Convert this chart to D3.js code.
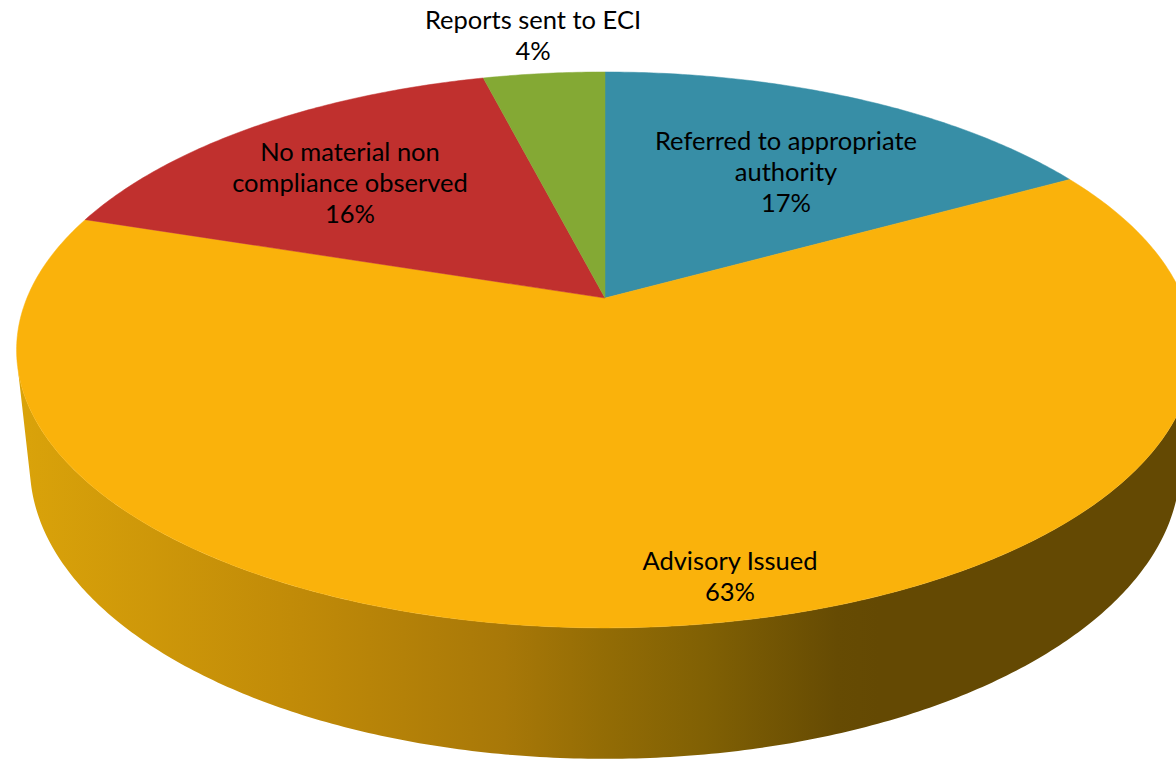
<!DOCTYPE html>
<html>
<head>
<meta charset="utf-8">
<script src="https://cdn.jsdelivr.net/npm/d3@7"></script>
<style>
  body { margin: 0; background: #fff; }
  svg { display: block; }
</style>
</head>
<body>
<div id="chart"></div>
<script>
var categories = ['Referred to appropriate authority', 'Advisory Issued', 'No material non compliance observed', 'Reports sent to ECI']
var values = [17, 63, 16, 4]
var labelLines = [
  ['Referred to appropriate', 'authority', '17%'],
  ['Advisory Issued', '63%'],
  ['No material non', 'compliance observed', '16%'],
  ['Reports sent to ECI', '4%']
]

var colors = ['#378ea6', '#fab20b', '#c0302e', '#84a934']
var labelPos = [[786, 150], [730, 570], [350, 161], [533, 29]]

var width = 1176
var height = 759

// camera for the tilted pie
var cx = 605, cy = 298
var F = 2740, D = 4.74
var tilt = 27.65 * Math.PI / 180
var thick = 0.228
var sinT = Math.sin(tilt), cosT = Math.cos(tilt)

function project(X, Y, Z) {
  var zc = D - Y * sinT - Z * cosT
  return [cx + F * X / zc, cy + F * (Z * sinT - Y * cosT) / zc]
}
// angle a measured clockwise from the back of the pie
function rim(a, y) {
  return project(Math.sin(a), y, -Math.cos(a))
}

var svg = d3.select('#chart')
  .append('svg')
  .attr('width', width)
  .attr('height', height)

var grad = svg.append('defs').append('linearGradient')
  .attr('id', 'sideGrad')
  .attr('gradientUnits', 'userSpaceOnUse')
  .attr('x1', 17).attr('x2', 880)
  .attr('y1', 0).attr('y2', 0)

var stops = [[0, '#daa30a'], [0.33, '#c08a08'], [0.565, '#a87808'], [0.68, '#936c05'], [0.8, '#806004'], [0.95, '#664b03'], [1, '#644903']]
grad.selectAll('stop')
  .data(stops)
  .enter()
  .append('stop')
  .attr('offset', function(d) { return d[0] })
  .attr('stop-color', function(d) { return d[1] })

var pie = d3.pie().sort(null).startAngle(0).endAngle(2 * Math.PI)
var arcs = pie(values)

var line = d3.line()

function sample(a0, a1, y) {
  var n = Math.max(2, Math.ceil(Math.abs(a1 - a0) / 0.01))
  var pts = []
  for (var i = 0; i <= n; i++) {
    pts.push(rim(a0 + (a1 - a0) * i / n, y))
  }
  return pts
}

// front wall, only between the two silhouette lines
var sil = Math.acos(-1 / (D * cosT))
var visA = sil, visB = 2 * Math.PI - sil

svg.append('g').selectAll('path.side')
  .data(arcs.filter(function(d) { return d.endAngle > visA && d.startAngle < visB }))
  .enter()
  .append('path')
  .attr('class', 'side')
  .attr('d', function(d) {
    var a0 = Math.max(d.startAngle, visA)
    var a1 = Math.min(d.endAngle, visB)
    var pts = sample(a0, a1, 0).concat(sample(a1, a0, -thick))
    return line(pts) + 'Z'
  })
  .attr('fill', 'url(#sideGrad)')

// top faces
svg.append('g').selectAll('path.top')
  .data(arcs)
  .enter()
  .append('path')
  .attr('class', 'top')
  .attr('d', function(d) {
    var pts = [project(0, 0, 0)].concat(sample(d.startAngle, d.endAngle, 0))
    return line(pts) + 'Z'
  })
  .attr('fill', function(d, i) { return colors[i] })
  .attr('stroke', function(d, i) { return colors[i] })
  .attr('stroke-width', 0.5)

var labels = svg.append('g').selectAll('text')
  .data(arcs)
  .enter()
  .append('text')
  .attr('x', function(d, i) { return labelPos[i][0] })
  .attr('y', function(d, i) { return labelPos[i][1] })
  .attr('text-anchor', 'middle')
  .attr('font-family', 'Lato, sans-serif')
  .attr('font-size', '25.5px')
  .attr('fill', '#000')

labels.selectAll('tspan')
  .data(function(d, i) { return labelLines[i] })
  .enter()
  .append('tspan')
  .attr('x', function() { return d3.select(this.parentNode).attr('x') })
  .attr('dy', function(d, j) { return j === 0 ? 0 : 31 })
  .text(function(d) { return d })
</script>
</body>
</html>
